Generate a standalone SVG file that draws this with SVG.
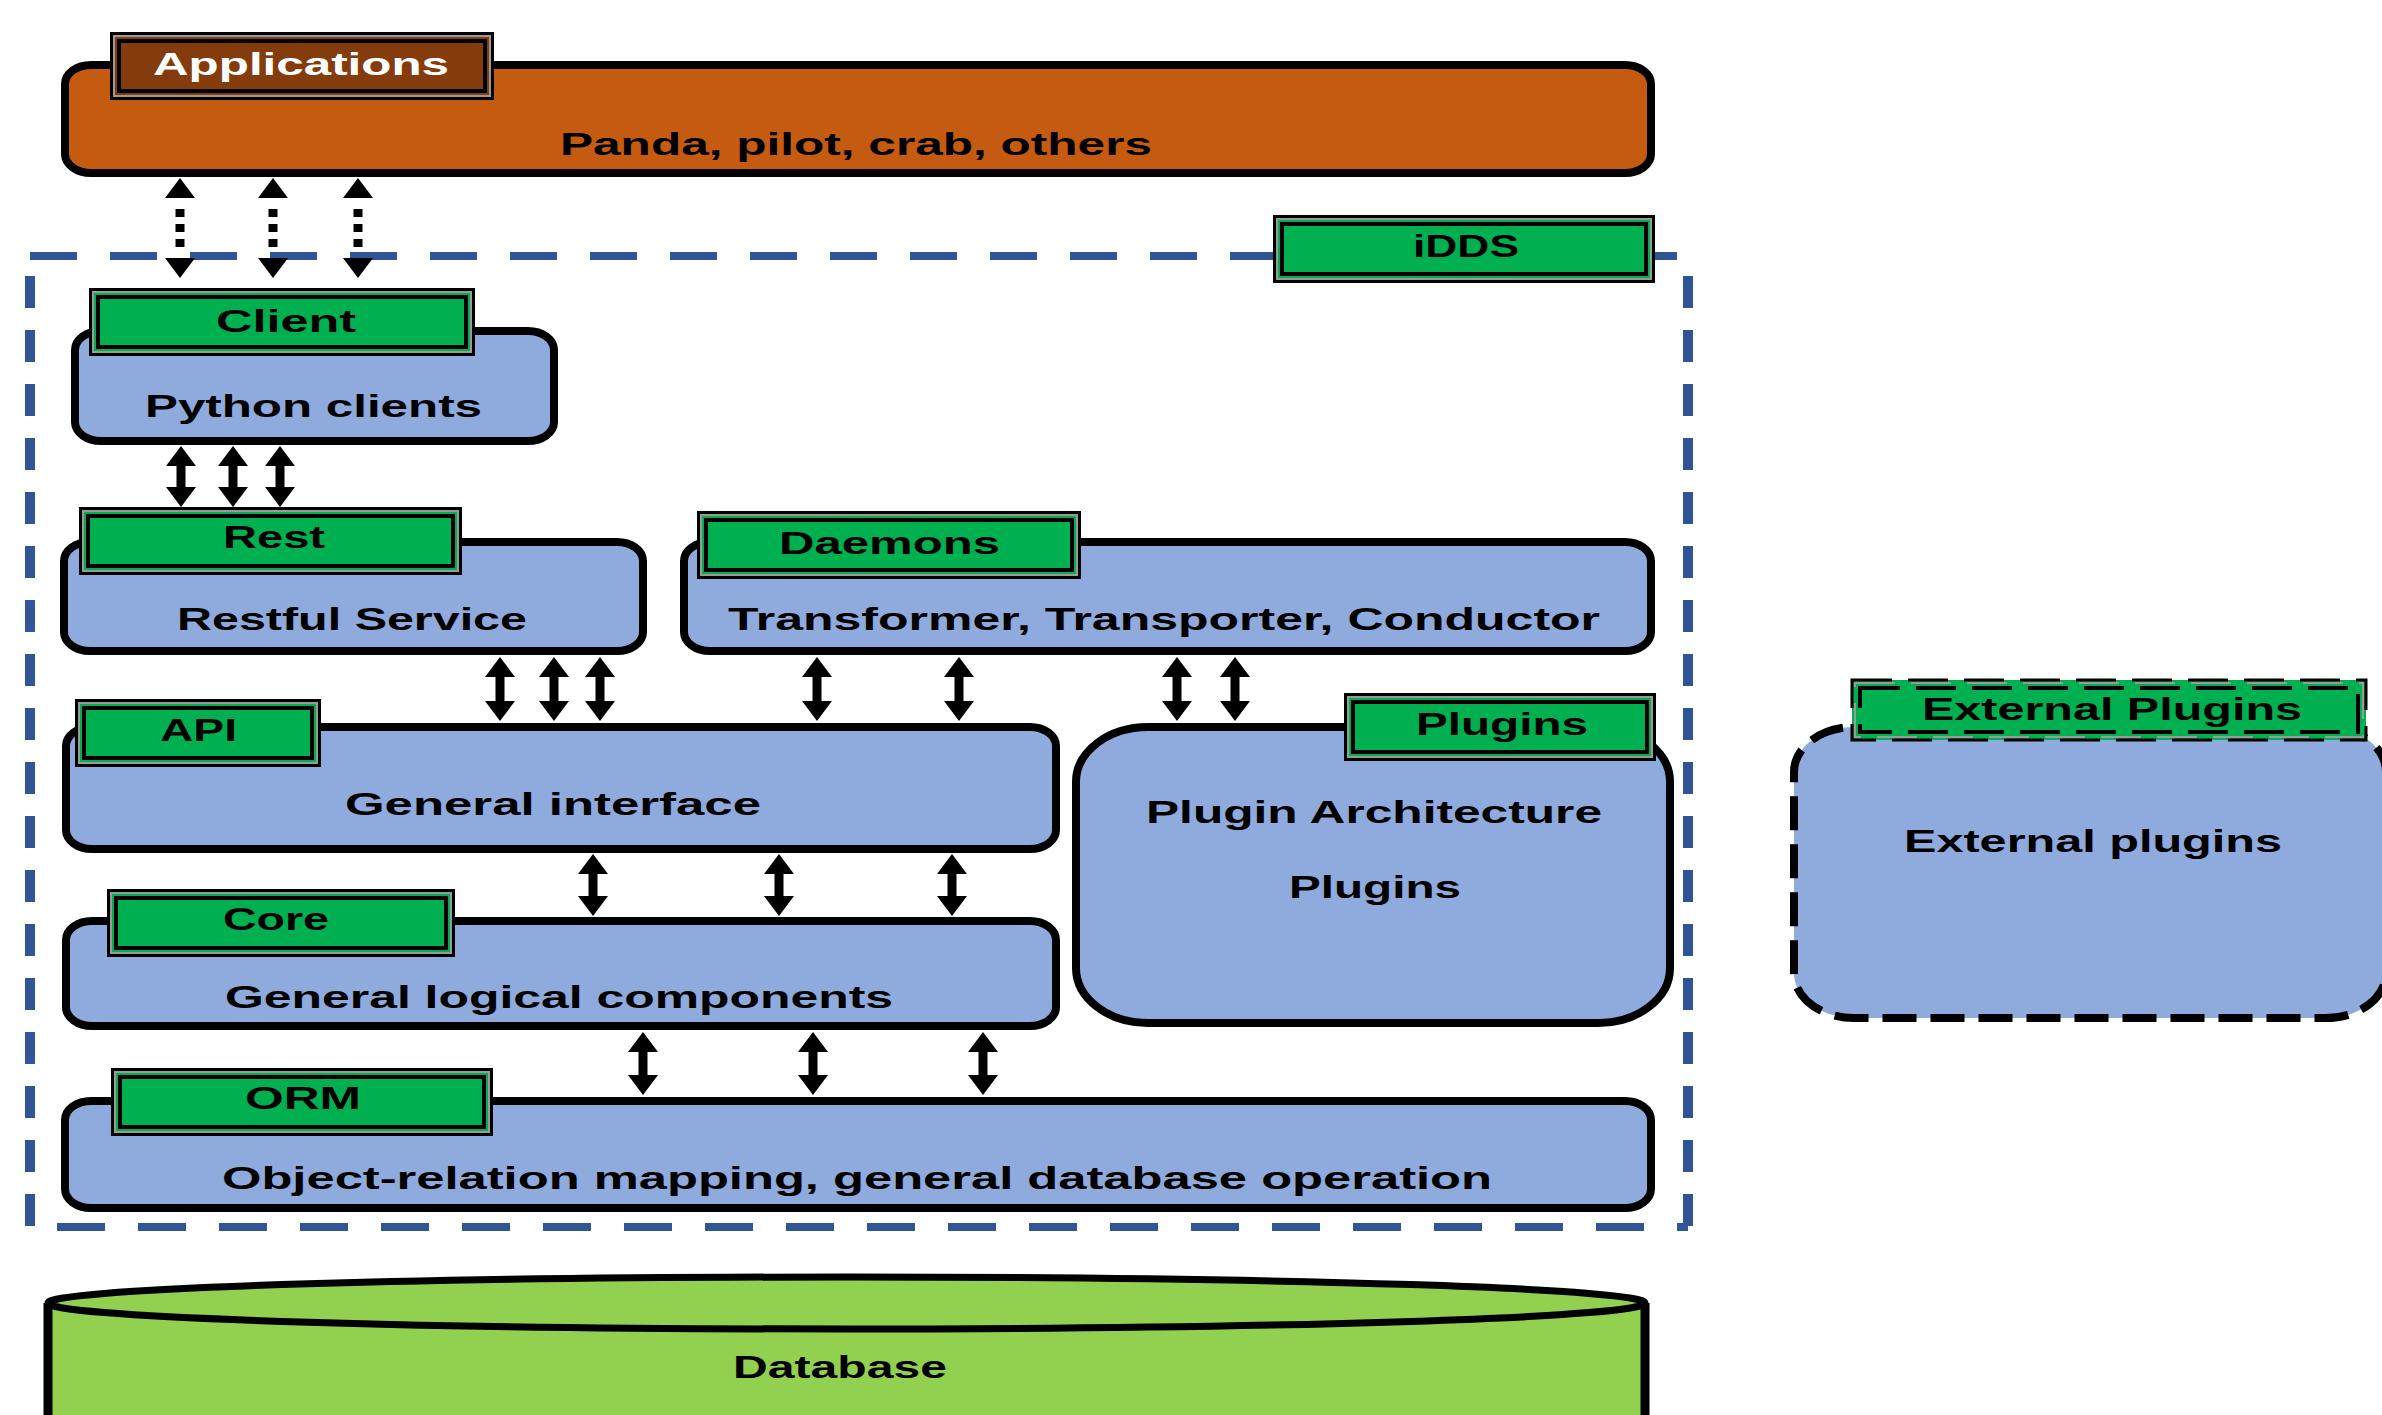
<svg xmlns="http://www.w3.org/2000/svg" width="2382" height="1415" viewBox="0 0 2382 1415">
<defs>
<style>
.t{font-family:"Liberation Sans",Arial,sans-serif;font-weight:bold;font-size:32px;fill:#000}
.w{fill:#fff}
.box{fill:#8FAADC;stroke:#000;stroke-width:8}
.app{fill:#C55A11;stroke:#000;stroke-width:8}
.lo{stroke:#000;stroke-width:3}
.lg{fill:none;stroke:#9a9a9a;stroke-width:2}
.li{fill:none;stroke:#000;stroke-width:4}
.grn{fill:#00B050}
.brn{fill:#843C0C}
.arr{stroke:#000;stroke-width:9;fill:none;marker-start:url(#ah);marker-end:url(#ah)}
.dot{stroke:#000;stroke-width:9;fill:none;stroke-dasharray:8 7}
.cont{stroke:#2F5597;fill:none}
</style>
<marker id="ah" markerUnits="userSpaceOnUse" viewBox="0 0 20 30" markerWidth="20" markerHeight="30" refX="10" refY="15" orient="auto-start-reverse">
<path d="M0,0 L20,15 L0,30 z" fill="#000"/>
</marker>
</defs>

<!-- Applications -->
<g id="applications">
<rect class="app" x="65" y="65" width="1586" height="108" rx="26" ry="19"/>
<rect class="brn lo" x="111.5" y="33.5" width="381" height="65"/>
<rect class="lg" x="114" y="36" width="376" height="60"/>
<rect class="li" x="119" y="41" width="366" height="50"/>
<text class="t w" x="153" y="75" textLength="296" lengthAdjust="spacingAndGlyphs">Applications</text>
<text class="t" x="560" y="155" textLength="592" lengthAdjust="spacingAndGlyphs">Panda, pilot, crab, others</text>
</g>

<!-- iDDS container -->
<g id="idds">
<line class="cont" x1="30" y1="256" x2="1688" y2="256" stroke-width="8" stroke-dasharray="47 33"/>
<line class="cont" x1="30" y1="1227" x2="1688" y2="1227" stroke-width="8" stroke-dasharray="48 33" stroke-dashoffset="-27"/>
<line class="cont" x1="30" y1="256" x2="30" y2="1227" stroke-width="10" stroke-dasharray="32 22" stroke-dashoffset="34"/>
<line class="cont" x1="1688" y1="256" x2="1688" y2="1227" stroke-width="10" stroke-dasharray="32 22" stroke-dashoffset="34"/>
<rect class="grn lo" x="1274.5" y="216.5" width="379" height="65"/>
<rect class="lg" x="1277" y="219" width="374" height="60"/>
<rect class="li" x="1282" y="224" width="364" height="50"/>
<text class="t" x="1413" y="257" textLength="106" lengthAdjust="spacingAndGlyphs">iDDS</text>
</g>

<!-- Client -->
<g id="client">
<rect class="box" x="75" y="331" width="479" height="110" rx="26" ry="19"/>
<rect class="grn lo" x="90.5" y="289.5" width="383" height="65"/>
<rect class="lg" x="93" y="292" width="378" height="60"/>
<rect class="li" x="98" y="297" width="368" height="50"/>
<text class="t" x="216" y="332" textLength="140" lengthAdjust="spacingAndGlyphs">Client</text>
<text class="t" x="145" y="417" textLength="337" lengthAdjust="spacingAndGlyphs">Python clients</text>
</g>

<!-- Rest -->
<g id="rest">
<rect class="box" x="64" y="542" width="579" height="109" rx="26" ry="19"/>
<rect class="grn lo" x="80.5" y="508.5" width="380" height="65"/>
<rect class="lg" x="83" y="511" width="375" height="60"/>
<rect class="li" x="88" y="516" width="365" height="50"/>
<text class="t" x="223" y="548" textLength="102" lengthAdjust="spacingAndGlyphs">Rest</text>
<text class="t" x="177" y="630" textLength="350" lengthAdjust="spacingAndGlyphs">Restful Service</text>
</g>

<!-- Daemons -->
<g id="daemons">
<rect class="box" x="684" y="542" width="967" height="109" rx="26" ry="19"/>
<rect class="grn lo" x="698.5" y="512.5" width="381" height="65"/>
<rect class="lg" x="701" y="515" width="376" height="60"/>
<rect class="li" x="706" y="520" width="366" height="50"/>
<text class="t" x="779" y="554" textLength="221" lengthAdjust="spacingAndGlyphs">Daemons</text>
<text class="t" x="728" y="630" textLength="872" lengthAdjust="spacingAndGlyphs">Transformer, Transporter, Conductor</text>
</g>

<!-- API -->
<g id="api">
<rect class="box" x="66" y="727" width="990" height="122" rx="26" ry="19"/>
<rect class="grn lo" x="76.5" y="700.5" width="243" height="65"/>
<rect class="lg" x="79" y="703" width="238" height="60"/>
<rect class="li" x="84" y="708" width="228" height="50"/>
<text class="t" x="160" y="741" textLength="77" lengthAdjust="spacingAndGlyphs">API</text>
<text class="t" x="345" y="815" textLength="416" lengthAdjust="spacingAndGlyphs">General interface</text>
</g>

<!-- Core -->
<g id="core">
<rect class="box" x="66" y="921" width="990" height="105" rx="26" ry="19"/>
<rect class="grn lo" x="108.5" y="890.5" width="345" height="65"/>
<rect class="lg" x="111" y="893" width="340" height="60"/>
<rect class="li" x="116" y="898" width="330" height="50"/>
<text class="t" x="223" y="930" textLength="106" lengthAdjust="spacingAndGlyphs">Core</text>
<text class="t" x="225" y="1008" textLength="668" lengthAdjust="spacingAndGlyphs">General logical components</text>
</g>

<!-- ORM -->
<g id="orm">
<rect class="box" x="65" y="1101" width="1586" height="107" rx="26" ry="19"/>
<rect class="grn lo" x="112.5" y="1069.5" width="379" height="65"/>
<rect class="lg" x="115" y="1072" width="374" height="60"/>
<rect class="li" x="120" y="1077" width="364" height="50"/>
<text class="t" x="245" y="1109" textLength="116" lengthAdjust="spacingAndGlyphs">ORM</text>
<text class="t" x="222" y="1189" textLength="1270" lengthAdjust="spacingAndGlyphs">Object-relation mapping, general database operation</text>
</g>

<!-- Plugins -->
<g id="plugins">
<rect class="box" x="1076" y="727" width="594" height="296" rx="72" ry="55"/>
<rect class="grn lo" x="1345.5" y="694.5" width="309" height="65"/>
<rect class="lg" x="1348" y="697" width="304" height="60"/>
<rect class="li" x="1353" y="702" width="294" height="50"/>
<text class="t" x="1416" y="735" textLength="172" lengthAdjust="spacingAndGlyphs">Plugins</text>
<text class="t" x="1146" y="823" textLength="456" lengthAdjust="spacingAndGlyphs">Plugin Architecture</text>
<text class="t" x="1289" y="898" textLength="172" lengthAdjust="spacingAndGlyphs">Plugins</text>
</g>

<!-- External plugins -->
<g id="external-plugins">
<rect x="1794" y="727" width="592" height="291" rx="60" ry="45" fill="#8FAADC" stroke="#000" stroke-width="8" stroke-dasharray="34 14"/>
<rect class="grn" x="1852" y="680" width="514" height="60" stroke="#000" stroke-width="3" stroke-dasharray="40 16"/>
<rect class="lg" x="1855" y="683" width="508" height="54" stroke-dasharray="40 16"/>
<rect x="1860" y="688" width="498" height="44" fill="none" stroke="#000" stroke-width="4" stroke-dasharray="40 16"/>
<text class="t" x="1922" y="720" textLength="380" lengthAdjust="spacingAndGlyphs">External Plugins</text>
<text class="t" x="1904" y="852" textLength="378" lengthAdjust="spacingAndGlyphs">External plugins</text>
</g>

<!-- Database -->
<g id="database">
<path d="M48,1303 V1425 H1645 V1303" fill="#92D050" stroke="#000" stroke-width="9"/>
<ellipse cx="846.5" cy="1303" rx="798.5" ry="26" fill="#92D050" stroke="#000" stroke-width="7"/>
<text class="t" x="733" y="1378" textLength="214" lengthAdjust="spacingAndGlyphs">Database</text>
</g>

<!-- Connectors -->
<g id="connectors">
<!-- Applications <-> iDDS (dotted) -->
<line x1="180" y1="188" x2="180" y2="268" stroke="none" marker-start="url(#ah)" marker-end="url(#ah)"/>
<line class="dot" x1="180" y1="209" x2="180" y2="247"/>
<line x1="273" y1="188" x2="273" y2="268" stroke="none" marker-start="url(#ah)" marker-end="url(#ah)"/>
<line class="dot" x1="273" y1="209" x2="273" y2="247"/>
<line x1="358" y1="188" x2="358" y2="268" stroke="none" marker-start="url(#ah)" marker-end="url(#ah)"/>
<line class="dot" x1="358" y1="209" x2="358" y2="247"/>
<!-- Client <-> Rest -->
<line class="arr" x1="181" y1="456" x2="181" y2="497"/>
<line class="arr" x1="233" y1="456" x2="233" y2="497"/>
<line class="arr" x1="280" y1="456" x2="280" y2="497"/>
<!-- Rest <-> API -->
<line class="arr" x1="500" y1="667" x2="500" y2="711"/>
<line class="arr" x1="554" y1="667" x2="554" y2="711"/>
<line class="arr" x1="600" y1="667" x2="600" y2="711"/>
<!-- Daemons <-> API -->
<line class="arr" x1="817" y1="667" x2="817" y2="711"/>
<line class="arr" x1="959" y1="667" x2="959" y2="711"/>
<!-- Daemons <-> Plugins -->
<line class="arr" x1="1177" y1="667" x2="1177" y2="711"/>
<line class="arr" x1="1235" y1="667" x2="1235" y2="711"/>
<!-- API <-> Core -->
<line class="arr" x1="593" y1="864" x2="593" y2="906"/>
<line class="arr" x1="779" y1="864" x2="779" y2="906"/>
<line class="arr" x1="952" y1="864" x2="952" y2="906"/>
<!-- Core <-> ORM -->
<line class="arr" x1="643" y1="1042" x2="643" y2="1085"/>
<line class="arr" x1="813" y1="1042" x2="813" y2="1085"/>
<line class="arr" x1="983" y1="1042" x2="983" y2="1085"/>
</g>
</svg>
